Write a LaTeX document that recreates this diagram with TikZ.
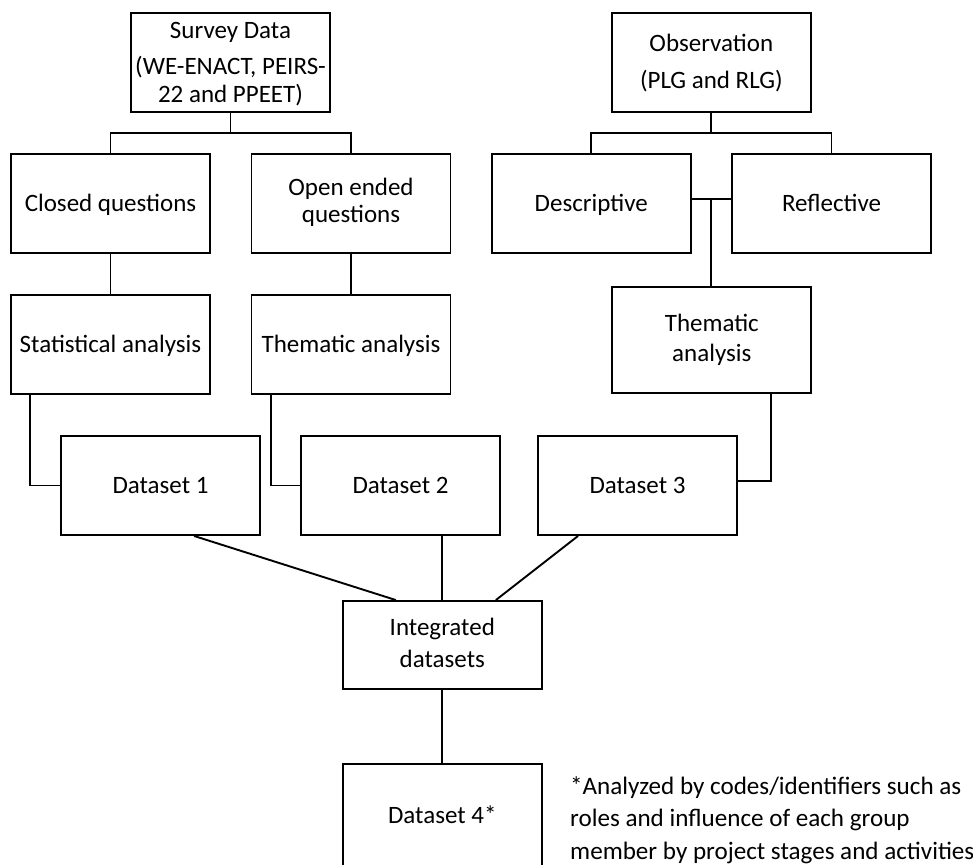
\documentclass[tikz,border=0pt]{standalone}
\usepackage{fontspec}
\setmainfont{Carlito}
\newcommand\bstrut{\rule[-6.5pt]{0pt}{28.5pt}}
\begin{document}
\begin{tikzpicture}[x=1pt,y=-1pt,
  box/.style={draw=black,line width=1.9pt,rectangle,inner sep=0pt,
    minimum width=199pt,minimum height=99pt,align=center,
    font=\fontsize{25}{28}\selectfont},
  conn/.style={draw=black,line width=1.9pt}]
\useasboundingbox (0,0) rectangle (973,864);
\clip (0,0) rectangle (973,864);
% top level
\node[box] (survey) at (230.5,62.5) {\bstrut Survey Data\\[8pt](WE-ENACT, PEIRS-\\22 and PPEET)\bstrut};
\node[box] (obs) at (711.3,62.5) {\bstrut Observation\\[8pt](PLG and RLG)\bstrut};
% second level
\node[box] (closed) at (110.5,203.5) {\bstrut Closed questions};
\node[box,font=\fontsize{25}{27}\selectfont] (open) at (351,203.5) {\strut Open ended\\questions\strut};
\node[box] (desc) at (591.2,203.5) {\bstrut Descriptive};
\node[box] (refl) at (831.5,203.5) {\bstrut Reflective};
% analysis
\node[box] (stat) at (110.5,344.5) {\bstrut Statistical analysis};
\node[box] (them1) at (351,344.5) {\bstrut Thematic analysis};
\node[box,minimum height=106pt,font=\fontsize{25}{30}\selectfont] (them2) at (711.8,340) {\strut Thematic\\analysis\strut};
% datasets
\node[box] (ds1) at (160.5,485.5) {\bstrut Dataset 1};
\node[box] (ds2) at (400.5,485.5) {\bstrut Dataset 2};
\node[box] (ds3) at (637.5,485.5) {\bstrut Dataset 3};
\node[box,minimum height=88pt,font=\fontsize{25}{32}\selectfont] (integ) at (442.3,645) {\strut Integrated\\datasets\strut};
\node[box,minimum height=104pt] (ds4) at (442.3,816) {\bstrut Dataset 4*};
% footnote
\node[anchor=north west,inner sep=0pt,align=left,
  font=\fontsize{25.1}{32.5}\selectfont] (note) at (570,776)
  {*Analyzed by codes/identifiers such as\\roles and influence of each group\\member by project stages and activities};
% connectors
\coordinate (sj) at (230.5,133);
\coordinate (oj) at (711.3,133);
\coordinate (dj) at (711.3,199);
\draw[conn] (survey.south) -- (sj);
\draw[conn] (closed.north) |- (sj) -| (open.north);
\draw[conn] (obs.south) -- (oj);
\draw[conn] (desc.north) |- (oj) -| (refl.north);
\draw[conn] (desc.east |- dj) -- (refl.west |- dj);
\draw[conn] (dj) -- (dj |- them2.north);
\draw[conn] (closed.south) -- (stat.north);
\draw[conn] (open.south) -- (them1.north);
\draw[conn] ([xshift=20pt]stat.south west) |- (ds1.west);
\draw[conn] ([xshift=20pt]them1.south west) |- (ds2.west);
\draw[conn] ([xshift=160pt]them2.south west) |- ([yshift=4.5pt]ds3.east);
\draw[conn] ([xshift=134pt]ds1.south west) -- ([xshift=54pt]integ.north west);
\draw[conn] (integ.north |- ds2.south) -- (integ.north);
\draw[conn] ([xshift=41pt]ds3.south west) -- ([xshift=154pt]integ.north west);
\draw[conn] (integ.south) -- (ds4.north);
\end{tikzpicture}
\end{document}
